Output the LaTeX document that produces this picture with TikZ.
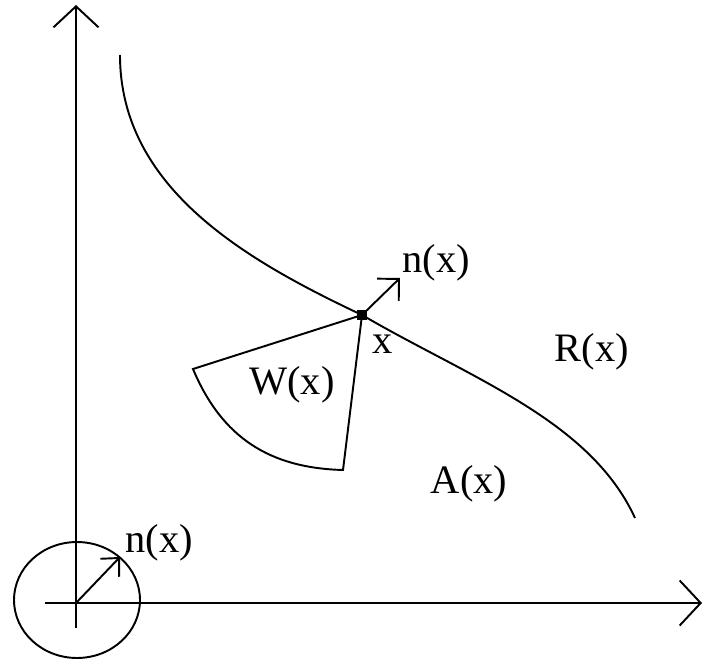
\documentclass[tikz,border=0pt]{standalone}
\usepackage{fontspec}
\setmainfont{Liberation Serif}
\usetikzlibrary{arrows.meta}
\tikzset{
  trazo/.style={line width=1.1pt, black},
  flechaEje/.style={trazo, -{Straight Barb[length=0.42cm, width=0.9cm]}},
  flechaNormal/.style={trazo, -{Straight Barb[length=0.31cm, width=0.62cm]}},
  flechaChica/.style={trazo, -{Straight Barb[length=0.27cm, width=0.52cm]}},
  etiqueta/.style={font=\fontsize{23}{26}\selectfont, inner sep=0pt},
  puntoFrontera/.style={rectangle, fill=black, minimum size=0.2cm, inner sep=0pt},
}
\begin{document}
\begin{tikzpicture}[x=0.02cm, y=-0.02cm]
    \useasboundingbox (0,0) rectangle (706,662);

    % ejes
    \coordinate (origen) at (76,603);
    \coordinate (ejeYabajo) at (76,628);
    \coordinate (ejeYarriba) at (76,5);
    \coordinate (ejeXizq) at (45,603);
    \coordinate (ejeXder) at (702,603);
    \draw[trazo] (ejeYabajo) -- (origen);
    \draw[flechaEje] (origen) -- (ejeYarriba);
    \draw[trazo] (ejeXizq) -- (origen);
    \draw[flechaEje] (origen) -- (ejeXder);

    % circulo y normal en el origen
    \draw[trazo] (77,600) ellipse [x radius=1.26cm, y radius=1.16cm];
    \coordinate (puntaChica) at (120,557);
    \draw[flechaChica] (origen) -- (puntaChica);
    \node[etiqueta] (nChica) at (159,543) {n(x)};

    % frontera
    \node[puntoFrontera] (puntoX) at (362,315) {};
    \coordinate (curvaIni) at (120,55);
    \coordinate (curvaFin) at (635,518);
    \draw[trazo] (curvaIni) .. controls (120,190) and (250,262) .. (puntoX.center)
      .. controls (470,378) and (590,420) .. (curvaFin);
    \coordinate (puntaNormal) at (400,278);
    \draw[flechaNormal] (puntoX.center) -- (puntaNormal);
    \node[etiqueta] (nGrande) at (436,263) {n(x)};
    \node[etiqueta] (etqX) at (383,344) {x};

    % region W(x)
    \coordinate (wIzq) at (193,369);
    \coordinate (wAbajo) at (343,470);
    \draw[trazo] (puntoX.center) -- (wIzq)
      .. controls (222,438) and (270,468) .. (wAbajo) -- (puntoX.center);

    \node[etiqueta] (etqW) at (292,385) {W(x)};
    \node[etiqueta] (etqR) at (592,352) {R(x)};
    \node[etiqueta] (etqA) at (469,484) {A(x)};
\end{tikzpicture}
\end{document}
